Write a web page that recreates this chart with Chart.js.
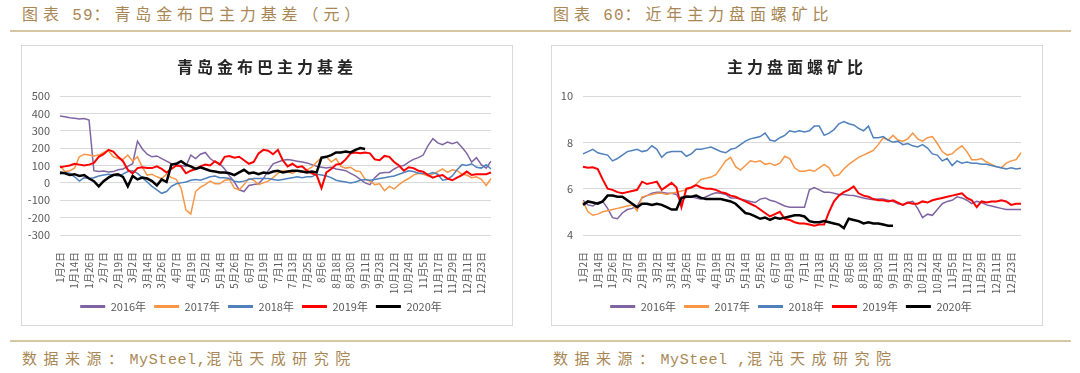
<!DOCTYPE html>
<html>
<head>
<meta charset="utf-8">
<script src="https://cdn.jsdelivr.net/npm/chart.js@4.4.0/dist/chart.umd.min.js"></script>
<style>
  body { margin: 0; width: 1080px; height: 373px; background: #fff; position: relative; overflow: hidden; }
  .hd, .ft { position: absolute; color: #a98755; white-space: nowrap; font-family: 'Noto Sans CJK SC', sans-serif; }
  .hd { top: 1px; font-size: 16px; letter-spacing: 4.9px; }
  .ft { top: 347px; font-size: 15px; letter-spacing: 6.5px; }
  .lat { font-family: 'Liberation Mono', monospace; letter-spacing: 0.6px; }
  .hd .lat { letter-spacing: 1px; }
  .rule { position: absolute; left: 10px; width: 1061px; height: 2px; background: #d6c6a4; }
  .box { position: absolute; top: 45px; width: 490px; height: 279px; border: 1px solid #d9d9d9; }
  .box canvas { position: absolute; left: 0; top: 0; }
  .ttl { position: absolute; left: 0; width: 490px; top: 8px; text-align: center; font-family: 'Noto Sans CJK SC', sans-serif;
         font-weight: bold; font-size: 16px; letter-spacing: 4px; color: #262626; }
</style>
</head>
<body>
<div class="hd" style="left:22px">图表 <span class="lat">59</span>：青岛金布巴主力基差（元）</div>
<div class="hd" style="left:553px">图表 <span class="lat">60</span>：近年主力盘面螺矿比</div>
<div class="rule" style="top:30px"></div>

<div class="box" style="left:21px"><canvas id="grafikuBaza" width="490" height="281"></canvas><div class="ttl">青岛金布巴主力基差</div></div>
<div class="box" style="left:551px"><canvas id="grafikuRaport" width="490" height="281"></canvas><div class="ttl">主力盘面螺矿比</div></div>

<div class="rule" style="top:340px"></div>
<div class="ft" style="left:22px">数据来源：<span class="lat">MySteel,</span>混沌天成研究院</div>
<div class="ft" style="left:553px">数据来源：<span class="lat">MySteel ,</span>混沌天成研究院</div>

<script>
const tickLabels = ['1月2日','1月14日','1月26日','2月7日','2月19日','3月2日','3月14日','3月26日','4月7日','4月19日',
  '5月2日','5月14日','5月26日','6月7日','6月19日','7月1日','7月13日','7月25日','8月6日','8月18日',
  '8月30日','9月11日','9月23日','10月12日','10月24日','11月5日','11月17日','11月29日','12月11日','12月23日'];
// one label every third point
const categories = tickLabels.flatMap(t => [t, '', '']);
const seriesNames = ['2016年', '2017年', '2018年', '2019年', '2020年'];
const seriesColors = ['#8064a2', '#f79646', '#4f81bd', '#ff0000', '#000000'];
const seriesWidths = [1.5, 1.5, 1.5, 2, 2.5];

// 青岛金布巴主力基差 (元)
const basis2016 = [385,380,375,372,368,370,362,70,65,68, 62,65,75,80,95,110,240,195,165,150,
  155,140,125,110,105,100,95,160,140,165, 175,140,120,110,80,40,5,-40,-50,-15,
  -10,-5,25,70,110,120,130,135,130,125, 120,115,105,95,90,85,90,80,75,70,
  55,40,20,0,-10,30,55,60,60,80, 95,100,120,135,145,160,215,255,230,220,
  235,225,235,205,170,120,145,105,85,125];
const basis2017 = [100,65,70,85,150,165,160,155,160,175, 185,150,140,135,160,125,150,90,45,50,
  35,25,50,30,20,-30,-155,-180,-50,-25, -10,10,-5,-5,15,20,-30,-40,-10,25,
  15,-10,0,10,30,55,70,65,55,70, 60,75,90,120,145,150,120,140,95,85,
  90,70,65,20,10,-10,-5,-45,-20,-35, -10,10,25,45,55,50,40,50,65,80,
  60,75,70,50,45,30,35,20,-15,25];
const basis2018 = [50,60,55,35,10,30,25,30,40,45, 50,45,40,50,65,70,55,30,5,-20,
  -40,-60,-50,-20,-5,0,5,15,20,15, 25,35,40,30,30,25,10,5,10,20,
  25,25,25,25,20,15,20,25,30,35, 30,35,35,50,45,40,30,15,10,5,
  0,5,15,20,15,20,25,30,35,40, 50,60,70,65,55,55,50,60,50,15,
  20,40,75,105,100,110,90,85,105,80];
const basis2019 = [90,95,100,110,105,100,105,115,150,165, 190,180,150,125,75,55,85,90,85,85,
  95,80,60,80,100,95,55,70,80,95, 105,100,125,105,150,155,145,150,130,110,
  120,170,190,185,165,190,130,95,110,90, 95,70,55,45,-30,60,80,105,110,135,
  170,175,170,175,170,135,130,155,150,120, 100,70,90,85,70,65,45,30,40,45,
  25,15,30,45,65,45,50,50,50,60];
const basis2020 = [60,55,45,50,40,45,25,10,-20,10, 30,45,50,35,-20,40,20,30,25,10,
  -15,20,5,105,110,125,105,95,80,90, 80,70,65,60,60,55,45,60,75,55,
  60,50,60,55,65,70,60,65,70,70, 65,60,65,60,145,150,160,175,175,180,
  175,190,200,195];

// 主力盘面螺矿比
const ratio2016 = [5.5,5.3,5.25,5.4,5.45,5.15,4.75,4.7,4.95,5.1, 5.15,5.25,5.6,5.7,5.8,5.85,5.85,5.8,5.8,5.75,
  5.4,5.7,5.65,5.6,5.55,5.65,5.75,5.82,5.8,5.75, 5.6,5.6,5.55,5.5,5.45,5.4,5.55,5.6,5.5,5.45,
  5.35,5.25,5.2,5.2,5.2,5.2,5.95,6.05,5.95,5.85, 5.85,5.8,5.75,5.75,5.72,5.7,5.65,5.6,5.55,5.52,
  5.55,5.55,5.5,5.45,5.35,5.3,5.4,5.45,5.15,4.75, 4.9,4.85,5.1,5.35,5.45,5.5,5.65,5.6,5.5,5.35,
  5.45,5.4,5.3,5.25,5.2,5.15,5.1,5.1,5.1,5.1];
const ratio2017 = [5.45,5.0,4.85,4.9,5.0,5.05,5.1,5.15,5.2,5.25, 5.3,5.05,5.65,5.7,5.75,5.8,5.8,5.75,5.8,5.85,
  5.9,5.95,6.05,6.2,6.4,6.45,6.5,6.6,6.9,7.2, 7.35,6.95,6.8,7.0,7.2,7.15,7.2,7.05,7.1,7.0,
  7.1,7.4,7.3,6.9,6.75,6.75,6.8,6.75,6.9,7.05, 6.9,6.55,6.6,6.85,7.05,7.2,7.35,7.45,7.55,7.65,
  7.9,8.2,8.1,8.3,8.1,8.05,8.15,8.4,8.15,8.05, 8.2,8.25,7.95,7.6,7.45,7.5,7.7,7.85,7.6,7.25,
  7.25,7.3,7.15,7.05,6.95,6.9,7.1,7.2,7.25,7.55];
const ratio2018 = [7.5,7.6,7.7,7.55,7.5,7.45,7.2,7.3,7.45,7.6, 7.65,7.7,7.6,7.65,7.85,7.7,7.35,7.55,7.6,7.6,
  7.6,7.4,7.5,7.7,7.7,7.75,7.8,7.7,7.6,7.55, 7.7,7.75,7.9,8.05,8.15,8.2,8.25,8.4,8.1,8.05,
  8.2,8.3,8.5,8.45,8.5,8.45,8.5,8.7,8.7,8.3, 8.4,8.55,8.8,8.9,8.8,8.75,8.6,8.5,8.7,8.2,
  8.2,8.25,8.1,8.0,8.05,7.9,7.95,7.85,7.8,7.9, 7.75,7.5,7.45,7.2,7.3,7.0,7.2,7.1,7.15,7.1,
  7.1,7.05,7.05,7.0,6.95,6.9,6.85,6.9,6.85,6.88];
const ratio2019 = [6.95,6.9,6.92,6.85,6.4,6.0,5.95,5.85,5.8,5.85, 5.9,5.95,6.3,6.2,6.25,6.3,5.95,6.1,6.25,6.05,
  5.2,6.0,6.05,6.15,6.05,6.0,6.0,5.95,5.85,5.8, 5.7,5.65,5.55,5.45,5.35,5.25,5.1,4.95,4.8,4.9,
  5.0,4.7,4.65,4.55,4.5,4.5,4.45,4.4,4.45,4.45, 5.0,5.45,5.7,5.85,5.95,6.1,5.8,5.7,5.65,5.55,
  5.5,5.5,5.45,5.5,5.4,5.3,5.4,5.35,5.35,5.45, 5.4,5.5,5.55,5.6,5.65,5.7,5.75,5.8,5.6,5.5,
  5.2,5.45,5.4,5.45,5.45,5.5,5.45,5.3,5.35,5.35];
const ratio2020 = [5.3,5.45,5.4,5.35,5.45,5.7,5.7,5.65,5.65,5.5, 5.35,5.2,5.35,5.35,5.3,5.35,5.3,5.2,5.1,5.1,
  5.6,5.65,5.65,5.7,5.6,5.55,5.55,5.55,5.55,5.5, 5.45,5.35,5.15,4.95,4.9,4.8,4.7,4.75,4.65,4.75,
  4.7,4.75,4.8,4.85,4.85,4.8,4.6,4.55,4.55,4.6, 4.55,4.5,4.45,4.3,4.7,4.65,4.6,4.5,4.55,4.5,
  4.5,4.45,4.4,4.4];

Chart.defaults.font.family = "'Noto Sans CJK SC', sans-serif";
Chart.defaults.color = '#595959';
Chart.defaults.animation = false;

function krijoGrafikun(id, seriesData, yMin, yMax, yStep, yWidth) {
  const datasets = seriesData.map((data, i) => ({
    label: seriesNames[i],
    data: data,
    borderColor: seriesColors[i],
    backgroundColor: seriesColors[i],
    borderWidth: seriesWidths[i],
    pointRadius: 0,
    pointStyle: 'line',
    tension: 0,
    fill: false,
    order: seriesData.length - i   // 2020 on top
  }));

  return new Chart(document.getElementById(id).getContext('2d'), {
    type: 'line',
    data: { labels: categories, datasets: datasets },
    options: {
      responsive: false,
      devicePixelRatio: 1,
      layout: { padding: { top: 50, left: 0, right: 12, bottom: 5 } },
      plugins: {
        title: { display: false },
        tooltip: { enabled: false },
        legend: {
          position: 'bottom',
          labels: {
            usePointStyle: true,
            pointStyleWidth: 25,
            padding: 8,
            font: { size: 11 },
            color: '#595959',
            sort: (a, b) => a.datasetIndex - b.datasetIndex,
            generateLabels: (chart) => Chart.defaults.plugins.legend.labels.generateLabels(chart)
              .map(it => Object.assign(it, { pointStyle: 'line', lineWidth: 3 }))
          }
        }
      },
      scales: {
        x: {
          grid: { display: false },
          border: { display: false },
          ticks: { autoSkip: false, minRotation: 90, maxRotation: 90, padding: 9, font: { size: 10 } },
          afterFit: (scale) => { scale.height = 58; }
        },
        y: {
          min: yMin,
          max: yMax,
          grid: { color: '#d9d9d9', lineWidth: 1, drawTicks: false },
          border: { display: false },
          ticks: { stepSize: yStep, padding: 10, font: { size: 11 } },
          afterFit: (scale) => { scale.width = yWidth; }
        }
      }
    }
  });
}

krijoGrafikun('grafikuBaza', [basis2016, basis2017, basis2018, basis2019, basis2020], -300, 500, 100, 38);
krijoGrafikun('grafikuRaport', [ratio2016, ratio2017, ratio2018, ratio2019, ratio2020], 4, 10, 2, 31);
</script>
</body>
</html>
